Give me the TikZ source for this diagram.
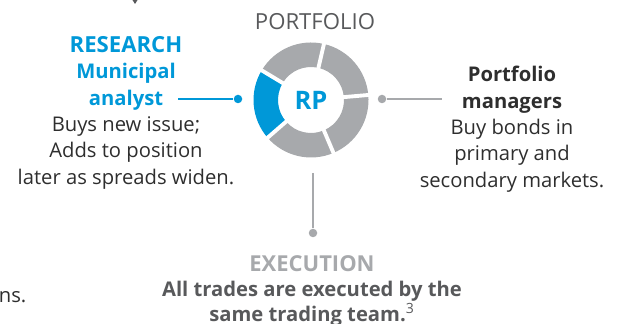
\documentclass[tikz,border=0pt]{standalone}
\usepackage{fontspec}
\setmainfont{Open Sans}
\usetikzlibrary{positioning,arrows.meta}

\definecolor{rpblue}{HTML}{0098D8}
\definecolor{rpgray}{HTML}{A7A9AC}
\definecolor{rptext}{HTML}{2E2E2E}
\definecolor{rpdark}{HTML}{58595B}

\newcommand\bluehead[1]{\textcolor{rpblue}{\bfseries #1}}

\begin{document}
\begin{tikzpicture}[
                    body/.style={
                    align=center,
                    inner sep=0pt,
                    text=rptext,
                    font=\fontsize{11.5}{15}\selectfont,
                },
                    dot/.style={
                    circle,
                    fill,
                    inner sep=0pt,
                    minimum size=0.17cm,
                },
                    link/.style={line width=0.9pt},
                    ]

\useasboundingbox (0,0) rectangle (12.42,6.48);

% donut
\begin{scope}[shift={(6.22,4.48)}]
\foreach \a in {5,77,221,293}
    \fill[rpgray] (\a:1.15) arc (\a:\a+72:1.15) -- (\a+72:0.66) arc (\a+72:\a:0.66) -- cycle;
\fill[rpblue] (149:1.15) arc (149:221:1.15) -- (221:0.66) arc (221:149:0.66) -- cycle;
\foreach \a in {5,77,149,221,293}
    \draw[white, line width=2.2pt] (\a:0.6) -- (\a:1.2);
\end{scope}

\draw
(6.22,4.48) node[font=\fontsize{14.5}{16}\selectfont\bfseries, text=rpblue] (rp) {RP}
(6.30,5.88) node[anchor=base, font=\fontsize{12.6}{14}\selectfont, text=rpdark] (portfolio) {PORTFOLIO}
(2.52,5.76) node[body, anchor=north] (research) {\bluehead{\fontsize{12.6}{15}\selectfont RESEARCH}\\\bluehead{Municipal}\\\bluehead{analyst}\\Buys new issue;\\Adds to position\\later as spreads widen.}
(10.24,5.16) node[body, anchor=north] (managers) {\textbf{Portfolio}\\\textbf{managers}\\Buy bonds in\\primary and\\secondary markets.}
(6.24,1.38) node[body, anchor=north, font=\fontsize{11.5}{14.3}\selectfont\bfseries, text=rpdark] (execution) {\textcolor{rpgray}{\fontsize{12.5}{14.3}\selectfont EXECUTION}\\All trades are executed by the\\same trading team.\textsuperscript{\mdseries\fontsize{8}{8}\selectfont 3}}
(-0.03,0.42) node[body, anchor=base west] (cut) {ns.}
(4.76,4.50) node[dot, rpblue] (rdot) {}
(7.64,4.50) node[dot, rpgray] (mdot) {}
(6.26,1.82) node[dot, rpgray] (edot) {}
(3.56,4.50) coordinate (rstart)
(8.84,4.50) coordinate (mend)
(6.26,3.02) coordinate (etop)
(2.70,6.70) coordinate (above)
(2.70,6.40) coordinate (arrowend)
;
\draw[link, rpblue] (rstart) -- (rdot);
\draw[link, rpgray] (mdot) -- (mend);
\draw[link, rpgray] (etop) -- (edot);
\draw[link, rpdark, -{Stealth[length=4pt, width=5pt]}] (above) -- (arrowend);

\end{tikzpicture}
\end{document}
